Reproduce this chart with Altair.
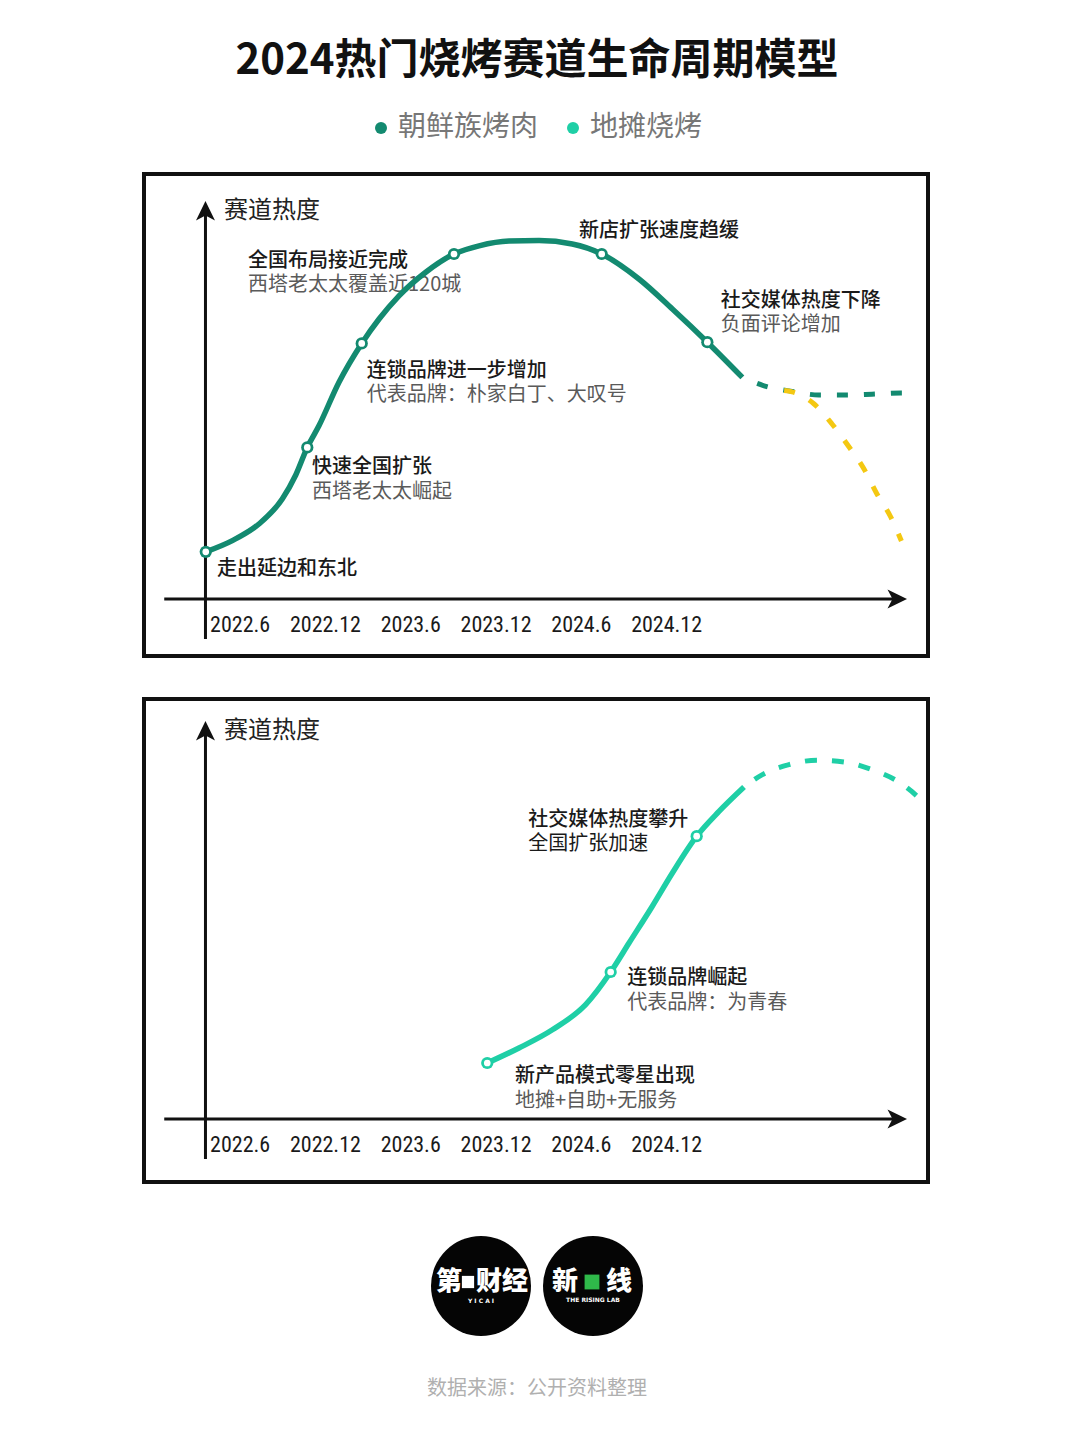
import altair as alt
import pandas as pd

# ---------------- fonts ----------------
CJK = "Noto Sans CJK SC"
NUM_FONT = "'Roboto Condensed', 'Liberation Sans', sans-serif"

# ---------------- text & categories ----------------
TITLE = "2024热门烧烤赛道生命周期模型"
SERIES = ["朝鲜族烤肉", "地摊烧烤"]
SERIES_COLORS = ["#138a70", "#1fcfa6"]
DECLINE_COLOR = "#f4c812"
HEAT_LABEL = "赛道热度"
SOURCE_NOTE = "数据来源：公开资料整理"

# x axis: months since 2022.6
TICK_MONTHS = [0, 6, 12, 18, 24, 30]
TICK_LABELS = ["2022.6", "2022.12", "2023.6", "2023.12", "2024.6", "2024.12"]

# ---------------- 朝鲜族烤肉 (heat index, months since 2022.6) ----------------
KR_SOLID_M = [-2.38, -0.51, 1.36, 3.0, 3.95, 4.76, 5.58, 6.99, 8.59, 9.81, 11.21,
              13.09, 15.08, 16.84, 18.95, 21.06, 23.4, 25.47, 28.09, 30.44, 32.9, 35.36]
KR_SOLID_H = [11.8, 14.6, 18.75, 25.0, 31.0, 37.9, 43.3, 54.2, 63.9, 70.0, 75.8,
              81.7, 86.25, 88.3, 89.5, 89.6, 88.75, 86.25, 80.0, 72.5, 64.2, 55.4]
KR_TREND_M = [35.36, 36.89, 38.86, 40.75, 42.63, 44.48, 46.5, 46.7]
KR_TREND_H = [55.4, 53.3, 51.9, 51.0, 51.0, 51.2, 51.5, 51.5]
KR_DECLINE_M = [38.3, 38.86, 40.41, 41.67, 42.87, 43.92, 44.83, 45.8, 46.55]
KR_DECLINE_H = [52.1, 51.8, 48.75, 43.75, 38.0, 32.5, 26.25, 20.5, 14.5]
KR_MILESTONE_M = [-2.38, 4.76, 8.59, 15.08, 25.47, 32.9]
KR_MILESTONE_H = [11.8, 37.9, 63.9, 86.25, 86.25, 64.2]
KR_NOTE_TITLES = ["走出延边和东北", "快速全国扩张", "连锁品牌进一步增加",
                  "全国布局接近完成", "新店扩张速度趋缓", "社交媒体热度下降"]
KR_NOTE_SUBS = ["", "西塔老太太崛起", "代表品牌：朴家白丁、大叹号",
                "西塔老太太覆盖近120城", "", "负面评论增加"]
KR_NOTE_SUB_DARK = [False, False, False, False, False, False]
KR_NOTE_M = [-1.59, 5.09, 8.94, 0.59, 23.87, 33.84]
KR_NOTE_H = [7.5, 33.0, 57.1, 84.6, 92.1, 74.6]

# ---------------- 地摊烧烤 ----------------
DT_SOLID_M = [17.42, 19.65, 22.0, 24.34, 26.1, 27.39, 29.03, 30.44, 32.15, 33.72, 35.48]
DT_SOLID_H = [14.0, 17.75, 22.3, 28.6, 36.75, 44.0, 53.2, 61.5, 70.7, 76.9, 83.0]
DT_TREND_M = [35.48, 36.77, 38.64, 40.63, 42.63, 44.5, 46.38, 48.02, 48.3]
DT_TREND_H = [83.0, 86.1, 88.6, 89.7, 89.2, 87.3, 84.2, 79.4, 78.3]
DT_MILESTONE_M = [17.42, 26.1, 32.15]
DT_MILESTONE_H = [14.0, 36.75, 70.7]
DT_NOTE_TITLES = ["新产品模式零星出现", "连锁品牌崛起", "社交媒体热度攀升"]
DT_NOTE_SUBS = ["地摊+自助+无服务", "代表品牌：为青春", "全国扩张加速"]
DT_NOTE_SUB_DARK = [False, False, True]
DT_NOTE_M = [19.37, 27.27, 20.31]
DT_NOTE_H = [10.75, 35.25, 74.8]

# ---------------- layout (scale space) ----------------
X_DOMAIN = [-6.724, 48.42]
PANEL_W = 784
Y_AXIS_M = -2.4
Y_AXIS_BOTTOM = -10.0
Y_ARROW_H = 97.0
X_AXIS_START = -5.3
X_ARROW_M = 46.24
HEAT_LABEL_M = -1.09
HEAT_LABEL_H = 97.0
ARROW_PATH = "M0,-1L0.95,0.95L0,0.45L-0.95,0.95Z"

COLOR_SCALE = alt.Scale(domain=SERIES, range=SERIES_COLORS)
LEGEND = alt.Legend(
    orient="none", legendX=359, legendY=-60, direction="horizontal", title=None,
    symbolType="circle", symbolSize=144, symbolStrokeWidth=0, labelFontSize=28,
    labelColor="#777777", labelFont=CJK, labelOffset=3, columnPadding=20,
    padding=0, labelLimit=300,
)

label_expr = " : ".join(
    f"datum.value == {m} ? '{lab}'" for m, lab in zip(TICK_MONTHS, TICK_LABELS)
) + " : ''"


def make_panel(idx, ydomain, height, axis_offset, label_pad,
               solid, trend, milestones, notes, dash, dash_offset, decline=None):
    series = SERIES[idx]
    line_color = SERIES_COLORS[idx]
    axis = alt.Axis(values=TICK_MONTHS, labelExpr=label_expr, domain=False, ticks=False,
                    tickSize=0, grid=False, offset=axis_offset, labelPadding=label_pad,
                    labelBaseline="middle", labelAlign="center", labelFont=NUM_FONT,
                    labelFontSize=22, labelFontWeight=400, labelColor="#1a1a1a",
                    labelFlush=False, labelOverlap=False, labelAngle=0, title=None)
    xs = alt.Scale(domain=X_DOMAIN, nice=False, zero=False)
    ys = alt.Scale(domain=ydomain, nice=False, zero=False)

    def X(f="m"):
        return alt.X(f"{f}:Q", scale=xs, axis=axis)

    def Y(f="h"):
        return alt.Y(f"{f}:Q", scale=ys, axis=None)

    vrule = alt.Chart(pd.DataFrame({"m": [Y_AXIS_M], "h": [Y_AXIS_BOTTOM], "h2": [Y_ARROW_H]})) \
        .mark_rule(color="#111111", strokeWidth=3).encode(x=X(), y=Y(), y2="h2:Q")
    hrule = alt.Chart(pd.DataFrame({"m": [X_AXIS_START], "m2": [X_ARROW_M], "h": [0.0]})) \
        .mark_rule(color="#111111", strokeWidth=3).encode(x=X(), x2="m2:Q", y=Y())
    arrows = alt.Chart(pd.DataFrame({"m": [Y_AXIS_M, X_ARROW_M], "h": [Y_ARROW_H, 0.0],
                                     "ang": [0, 90]})) \
        .mark_point(shape=ARROW_PATH, filled=True, size=400, color="#111111", opacity=1) \
        .encode(x=X(), y=Y(), angle=alt.Angle("ang:Q", scale=None))
    ylab = alt.Chart(pd.DataFrame({"m": [HEAT_LABEL_M], "h": [HEAT_LABEL_H], "t": [HEAT_LABEL]})) \
        .mark_text(align="left", baseline="middle", font=CJK, fontSize=24, color="#222222") \
        .encode(x=X(), y=Y(), text="t:N")

    ndf = pd.DataFrame({"m": notes[0], "h": notes[1], "title": notes[2], "sub": notes[3],
                        "dark": notes[4]})
    ntitle = alt.Chart(ndf).mark_text(align="left", baseline="middle", font=CJK, fontSize=20,
                                      fontWeight=500, color="#1a1a1a") \
        .encode(x=X(), y=Y(), text="title:N")
    nsub = alt.Chart(ndf).mark_text(align="left", baseline="middle", font=CJK, fontSize=20,
                                    dy=24.5) \
        .encode(x=X(), y=Y(), text="sub:N",
                color=alt.condition("datum.dark", alt.value("#1a1a1a"), alt.value("#5a5a5a")))

    tdf = pd.DataFrame({"m": trend[0], "h": trend[1]})
    trend_line = alt.Chart(tdf).mark_line(strokeWidth=5, interpolate="monotone", clip=True,
                                          strokeDash=dash, strokeDashOffset=dash_offset,
                                          color=line_color) \
        .encode(x=X(), y=Y())
    sdf = pd.DataFrame({"m": solid[0], "h": solid[1]})
    solid_line = alt.Chart(sdf).mark_line(strokeWidth=5.5, interpolate="monotone",
                                          color=line_color) \
        .encode(x=X(), y=Y())
    mdf = pd.DataFrame({"m": milestones[0], "h": milestones[1], "series": series})
    ring = alt.Chart(mdf).mark_point(shape="circle", filled=True, size=150, opacity=1) \
        .encode(x=X(), y=Y(), color=alt.Color("series:N", scale=COLOR_SCALE, legend=LEGEND))
    hole = alt.Chart(mdf).mark_point(shape="circle", filled=True, size=45, opacity=1,
                                     color="white") \
        .encode(x=X(), y=Y())

    layers = [vrule, hrule, arrows, ylab, ntitle, nsub, trend_line]
    if decline is not None:
        ddf = pd.DataFrame({"m": decline[0], "h": decline[1]})
        layers.append(alt.Chart(ddf).mark_line(strokeWidth=5, interpolate="monotone",
                                               strokeDash=dash, color=DECLINE_COLOR)
                      .encode(x=X(), y=Y()))
    layers += [solid_line, ring, hole]
    return alt.layer(*layers).properties(
        width=PANEL_W, height=height,
        view=alt.ViewBackground(stroke="#111111", strokeWidth=4, fill="white"),
    )


panel1 = make_panel(
    0, [-14.25, 106.25], 482, -57, 25,
    (KR_SOLID_M, KR_SOLID_H), (KR_TREND_M, KR_TREND_H),
    (KR_MILESTONE_M, KR_MILESTONE_H),
    (KR_NOTE_M, KR_NOTE_H, KR_NOTE_TITLES, KR_NOTE_SUBS, KR_NOTE_SUB_DARK),
    [11, 16], 11, decline=(KR_DECLINE_M, KR_DECLINE_H),
)
panel2 = make_panel(
    1, [-15.75, 105.0], 483, -63, 25.7,
    (DT_SOLID_M, DT_SOLID_H), (DT_TREND_M, DT_TREND_H),
    (DT_MILESTONE_M, DT_MILESTONE_H),
    (DT_NOTE_M, DT_NOTE_H, DT_NOTE_TITLES, DT_NOTE_SUBS, DT_NOTE_SUB_DARK),
    [12, 15], 14,
)

# ---------------- footer: logos + source ----------------
base = alt.Chart(pd.DataFrame({"k": [0]}))
FOOT_W = 1058
logo_discs = [
    base.mark_point(shape="circle", filled=True, size=10000, color="#050505", opacity=1)
    .encode(x=alt.value(cx), y=alt.value(63)) for cx in (473, 585)
]
logo_text = [
    base.mark_text(text="第", font=CJK, fontSize=26, fontWeight=900, color="white")
    .encode(x=alt.value(441), y=alt.value(59)),
    base.mark_point(shape="square", filled=True, size=150, color="white", opacity=1)
    .encode(x=alt.value(460), y=alt.value(59)),
    base.mark_text(text="财经", font=CJK, fontSize=26, fontWeight=900, color="white")
    .encode(x=alt.value(494), y=alt.value(59)),
    base.mark_text(text="Y     I     C     A     I", font="DejaVu Sans", fontSize=6,
                   fontWeight="bold", color="white")
    .encode(x=alt.value(473), y=alt.value(78)),
    base.mark_text(text="新", font=CJK, fontSize=26, fontWeight=900, color="white")
    .encode(x=alt.value(557), y=alt.value(59)),
    base.mark_point(shape="square", filled=True, size=220, color="#2fb94a", opacity=1)
    .encode(x=alt.value(584), y=alt.value(59)),
    base.mark_text(text="线", font=CJK, fontSize=26, fontWeight=900, color="white")
    .encode(x=alt.value(611), y=alt.value(59)),
    base.mark_text(text="THE RISING LAB", font="DejaVu Sans", fontSize=6,
                   fontWeight="bold", color="white")
    .encode(x=alt.value(585), y=alt.value(77)),
    base.mark_text(text=SOURCE_NOTE, font=CJK, fontSize=20, color="#b0b0b0")
    .encode(x=alt.value(FOOT_W / 2), y=alt.value(166)),
]
footer = alt.layer(*logo_discs, *logo_text).properties(width=FOOT_W, height=200)

chart = alt.vconcat(panel1, panel2, footer, spacing=39, center=True).resolve_scale(
    color="shared"
).properties(
    title=alt.Title(TITLE, anchor="middle", fontSize=42, font=CJK, fontWeight=700,
                    color="#111111", offset=31),
    padding={"left": 0, "top": 32, "right": 0, "bottom": 0},
).configure_view(stroke=None)

chart.save("out.html", embed_options={"renderer": "svg", "actions": False})
